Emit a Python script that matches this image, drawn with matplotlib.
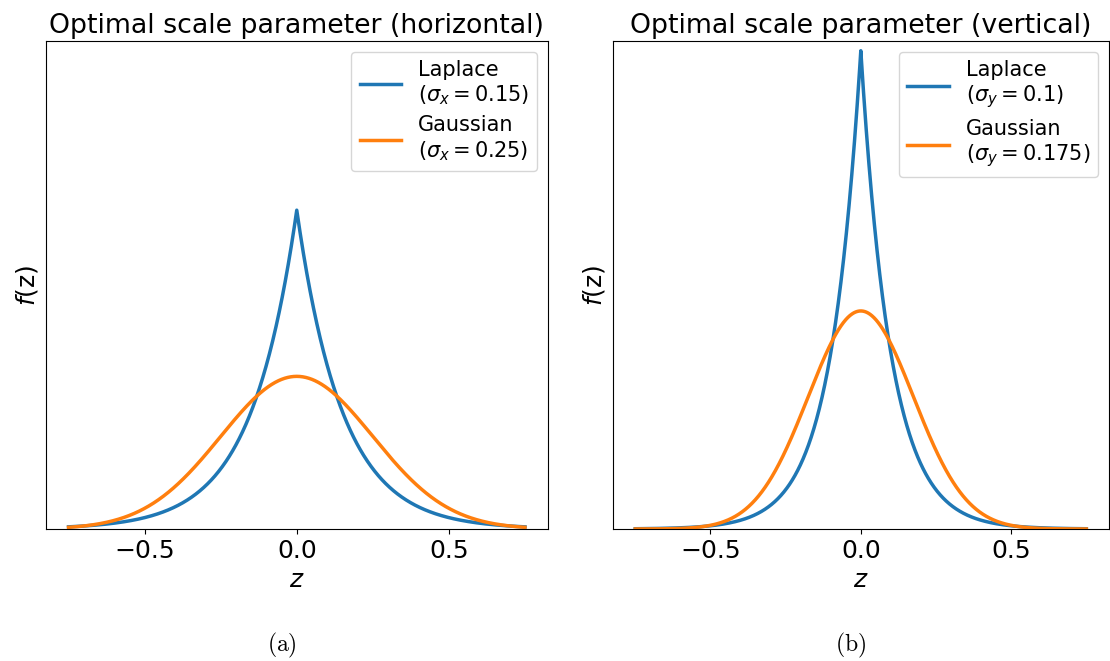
import numpy as np
import matplotlib
matplotlib.use('Agg')
import matplotlib.pyplot as plt

# scale parameters shown in the legends
titles = ['Optimal scale parameter (horizontal)', 'Optimal scale parameter (vertical)']
laplace_scale = [0.15, 0.1]
gauss_scale = [0.25, 0.175]
sub = ['x', 'y']
gauss_txt = ['0.25', '0.175']
laplace_txt = ['0.15', '0.1']
panel_tags = ['a', 'b']
tag_x = [0.254, 0.766]

z = np.linspace(-0.75, 0.75, 1501)

fig = plt.figure(figsize=(11.1, 6.61), dpi=100)
ax1 = fig.add_axes([0.0412, 0.1997, 0.4523, 0.738])
ax2 = fig.add_axes([0.552, 0.1997, 0.447, 0.738], sharey=ax1)

for i, ax in enumerate([ax1, ax2]):
    b = laplace_scale[i]
    s = gauss_scale[i]
    lap = np.exp(-np.abs(z) / b) / (2 * b)
    gau = np.exp(-z**2 / (2 * s**2)) / (s * np.sqrt(2 * np.pi))
    ax.plot(z, lap, lw=2.5, color='#1f77b4',
            label='Laplace\n($\\sigma_%s = %s$)' % (sub[i], laplace_txt[i]))
    ax.plot(z, gau, lw=2.5, color='#ff7f0e',
            label='Gaussian\n($\\sigma_%s = %s$)' % (sub[i], gauss_txt[i]))
    ax.set_title(titles[i], fontsize=19.3)
    ax.set_xlabel('$z$', fontsize=18)
    ax.set_ylabel('$f$(z)', fontsize=18)
    ax.set_yticks([])
    ax.tick_params(axis='x', labelsize=18)
    ax.legend(loc='upper right', fontsize=15, labelspacing=0.4)
    fig.text(tag_x[i], 0.024, '$\\mathrm{(%s)}$' % panel_tags[i],
             ha='center', va='center', fontsize=17, math_fontfamily='cm')

ax1.set_ylim(0, 5.1)
ax2.tick_params(axis='y', left=False, labelleft=False)

fig.savefig('out.png', dpi=100)
